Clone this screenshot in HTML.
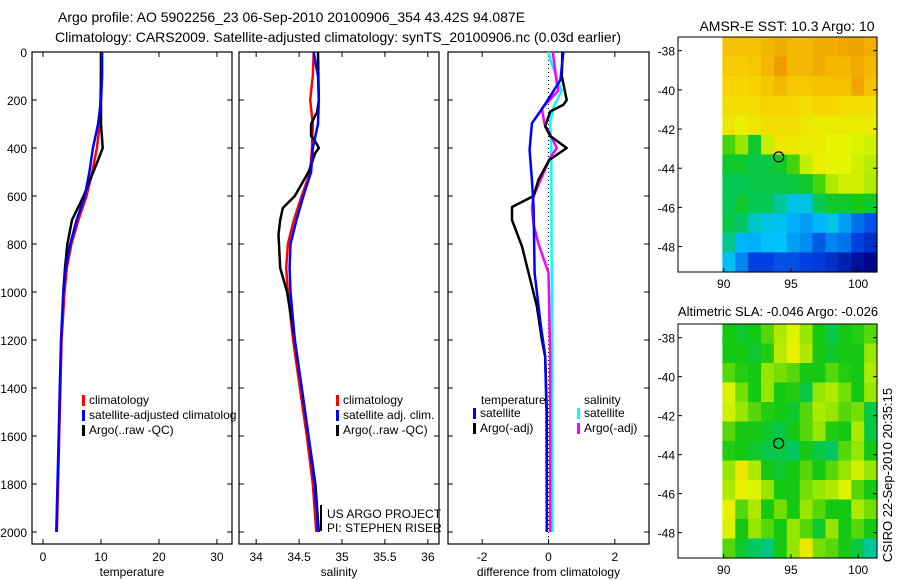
<!DOCTYPE html>
<html><head><meta charset="utf-8"><style>
html,body{margin:0;padding:0;background:#fff;}
svg{display:block;font-family:"Liberation Sans",sans-serif;font-size:12px;}
</style></head><body>
<svg id="c" width="900" height="580" viewBox="0 0 900 580">
<text x="58" y="22" font-size="14">Argo profile: AO 5902256_23 06-Sep-2010 20100906_354 43.42S 94.087E</text>
<text x="55" y="42" font-size="14" textLength="566">Climatology: CARS2009. Satellite-adjusted climatology: synTS_20100906.nc (0.03d earlier)</text>
<text x="787" y="31" font-size="14" text-anchor="middle">AMSR-E SST: 10.3 Argo: 10</text>
<text x="778" y="316" font-size="13" text-anchor="middle">Altimetric SLA: -0.046 Argo: -0.026</text>
<text transform="translate(892,475) rotate(-90)" font-size="13" text-anchor="middle">CSIRO 22-Sep-2010 20:35:15</text>
<g id="g"></g>
</svg>
<script>
// ---- profile data (depth in dbar) ----
const tDepth = [0,100,200,300,400,500,600,700,800,900,1000,1200,1400,1600,1800,2000];
const tClim  = [10,10,9.9,9.8,9.3,8.5,7.5,6.1,4.9,4.1,3.7,3.2,3.0,2.8,2.6,2.4];
const tSat   = [10.2,10.2,10,9.5,8.6,8.0,7.2,5.8,4.7,3.9,3.5,3.1,2.9,2.7,2.5,2.3];
const aDepth = [0,300,400,450,600,650,700,800,900,1000];
const tArgo  = [10,10,10.3,9.5,7,6,5,4.2,3.8,3.5];
const sDepth = [0,100,200,300,400,500,600,700,800,900,1000,1200,1400,1600,1800,2000];
const sClim  = [34.67,34.66,34.63,34.66,34.65,34.63,34.53,34.44,34.37,34.35,34.37,34.43,34.51,34.59,34.66,34.70];
const sSat   = [34.67,34.72,34.73,34.72,34.66,34.64,34.55,34.47,34.40,34.39,34.40,34.45,34.53,34.61,34.68,34.72];
const saDepth= [0,200,250,300,350,380,400,420,500,600,650,700,760,900,1000,1200,1400,1600,1800,2000];
const sArgo  = [34.72,34.73,34.71,34.64,34.64,34.70,34.73,34.69,34.61,34.45,34.31,34.28,34.26,34.28,34.36,34.45,34.53,34.61,34.69,34.73];
const dDepthA= [0,117,228,297,408,533,646,921,1129,1268,1500,2000];
const dTSat  = [0.45,0.36,-0.15,-0.5,-0.57,-0.5,-0.45,-0.42,-0.24,-0.1,-0.06,-0.05];
const dDepthB= [0,100,200,220,248,310,350,400,450,533,600,646,700,810,921,1060,1200,1270,1500,2000];
const dTArgo = [0.42,0.4,0.55,0.45,0.05,-0.1,0.05,0.55,0.02,-0.3,-0.45,-1.1,-1.1,-0.8,-0.6,-0.35,-0.2,-0.1,-0.05,-0.05];
const dDepthC= [0,130,160,235,300,330,400,440,600,650,720,800,920,1270,2000];
const dSArgo = [0.13,0.25,0.3,-0.2,-0.12,0.0,0.25,0.05,-0.45,-0.5,-0.45,-0.3,0.0,0.05,0.05];
const dDepthD= [0,30,130,160,230,290,400,1000,2000];
const dSSat  = [0.0,0.05,0.3,0.4,0.15,0.05,0.08,0.1,0.12];
const yTicks = [0,200,400,600,800,1000,1200,1400,1600,1800,2000];
const tTicks = [0,10,20,30];
const sTicks = [34,34.5,35,35.5,36];
const sTickLabels = ["34","34.5","35","35.5","36"];
const dTicks = [-2,0,2];
// ---- map data (rows north->south, cols west->east, colour index 0..1) ----
const sstGrid = [
[.78,.78,.78,.8,.82,.8,.8,.82,.82,.84,.84,.82],
[.76,.76,.77,.8,.86,.8,.8,.82,.8,.8,.83,.8],
[.74,.74,.75,.77,.8,.77,.77,.78,.78,.78,.84,.78],
[.72,.72,.72,.74,.74,.74,.72,.74,.74,.72,.72,.72],
[.7,.68,.7,.72,.72,.72,.7,.69,.69,.69,.69,.69],
[.55,.6,.5,.64,.7,.7,.69,.69,.67,.67,.66,.65],
[.5,.5,.48,.48,.5,.55,.64,.68,.67,.67,.65,.63],
[.47,.47,.48,.48,.48,.49,.5,.55,.62,.65,.65,.62],
[.47,.5,.47,.47,.42,.37,.37,.47,.5,.5,.52,.5],
[.48,.46,.39,.37,.36,.33,.31,.34,.37,.31,.26,.22],
[.43,.34,.33,.35,.35,.31,.29,.23,.28,.26,.2,.15],
[.36,.28,.2,.2,.22,.22,.2,.18,.15,.1,.05,.02]];
const slaGrid = [
[.52,.5,.52,.56,.62,.66,.6,.52,.48,.52,.53,.56],
[.52,.52,.5,.53,.63,.68,.62,.52,.5,.52,.52,.6],
[.56,.53,.52,.6,.58,.56,.52,.52,.56,.53,.52,.62],
[.66,.58,.52,.6,.52,.53,.48,.6,.62,.58,.52,.6],
[.65,.6,.56,.53,.52,.5,.56,.62,.6,.56,.58,.48],
[.56,.52,.52,.5,.48,.52,.56,.6,.53,.52,.62,.48],
[.53,.52,.5,.48,.48,.46,.52,.48,.46,.56,.6,.52],
[.6,.7,.62,.52,.5,.52,.56,.52,.56,.6,.65,.6],
[.62,.68,.66,.6,.52,.52,.58,.6,.62,.66,.56,.52],
[.68,.56,.62,.52,.58,.52,.6,.56,.52,.52,.62,.58],
[.66,.52,.6,.56,.52,.6,.56,.5,.6,.52,.56,.52],
[.56,.5,.46,.44,.52,.6,.7,.58,.56,.52,.48,.42]];
const latTicks = [-38,-40,-42,-44,-46,-48];
const lonTicks = [90,95,100];
const argoLon = 94.087, argoLat = -43.42;

const NS="http://www.w3.org/2000/svg";
const G=document.getElementById('g');
function mk(tag,attrs,parent){const e=document.createElementNS(NS,tag);for(const k in attrs)e.setAttribute(k,attrs[k]);(parent||G).appendChild(e);return e;}
const yD = d => 52 + d*0.24;
const BOT = 544;
function panel(x0,x1,vmin,vmax,ticks,labels,title,name){
  const sx = v => x0 + (v-vmin)/(vmax-vmin)*(x1-x0);
  const b=mk('rect',{x:x0,y:52,width:x1-x0,height:BOT-52,fill:'none',stroke:'#000','stroke-width':1.2});
  
  
  yTicks.forEach(d=>{
    mk('line',{x1:x0,x2:x0+5,y1:yD(d),y2:yD(d),stroke:'#000'});
    mk('line',{x1:x1,x2:x1-5,y1:yD(d),y2:yD(d),stroke:'#000'});
  });
  ticks.forEach((v,i)=>{
    mk('line',{x1:sx(v),x2:sx(v),y1:BOT,y2:BOT-5,stroke:'#000'});
    mk('line',{x1:sx(v),x2:sx(v),y1:52,y2:57,stroke:'#000'});
    const t=mk('text',{x:sx(v),y:BOT+17,'text-anchor':'middle'});t.textContent=labels[i];
    
    
  });
  const tt=mk('text',{x:(x0+x1)/2,y:576,'text-anchor':'middle'});tt.textContent=title;
  
  
  return sx;
}
function line(sx,depths,vals,col,w,name){
  const p=depths.map((d,i)=>sx(vals[i]).toFixed(1)+','+yD(d).toFixed(1)).join(' ');
  const e=mk('polyline',{points:p,fill:'none',stroke:col,'stroke-width':w,'stroke-linejoin':'round'});
  
  
}
function legend(x,y,col,txt,name){
  const r=mk('rect',{x:x,y:y-9,width:3,height:11,fill:col});
  
  
  const t=mk('text',{x:x+7,y:y});t.textContent=txt;
  
  
}
yTicks.forEach(d=>{const t=mk('text',{x:27,y:yD(d)+5,'text-anchor':'end'});t.textContent=d;
  
  });
const sx1=panel(32,232,-1.9,32.6,tTicks,tTicks.map(String),'temperature','temperature-panel');
line(sx1,tDepth,tClim,'#f00',2.5,'temp-climatology-line');
line(sx1,aDepth,tArgo,'#000',2.5,'temp-argo-line');
line(sx1,tDepth,tSat,'#00f',2.5,'temp-satellite-line');
legend(82,404,'#f00','climatology','legend-climatology');
legend(82,419,'#00f','satellite-adjusted climatolog','legend-satellite-adjusted');
legend(82,434,'#000','Argo(..raw -QC)','legend-argo-raw');
const sx2=panel(239,439,33.8,36.13,sTicks,sTickLabels,'salinity','salinity-panel');
line(sx2,sDepth,sClim,'#f00',2.5,'sal-climatology-line');
line(sx2,saDepth,sArgo,'#000',2.5,'sal-argo-line');
line(sx2,sDepth,sSat,'#00f',2.5,'sal-satellite-line');
legend(336,404,'#f00','climatology','legend-sal-climatology');
legend(336,419,'#00f','satellite adj. clim.','legend-sal-satellite');
legend(336,434,'#000','Argo(..raw -QC)','legend-sal-argo');
mk('rect',{x:320,y:505,width:2,height:26,fill:'#000'});
const u1=mk('text',{x:327,y:518});u1.textContent='US ARGO PROJECT';

const u2=mk('text',{x:327,y:532});u2.textContent='PI: STEPHEN RISER';

const sx3=panel(448,649,-3.03,3.03,dTicks,dTicks.map(String),'difference from climatology','difference-panel');
mk('line',{x1:sx3(0),x2:sx3(0),y1:52,y2:540,stroke:'#000','stroke-dasharray':'1,3'});
line(sx3,dDepthD,dSSat,'#0ff',2.5,'diff-sal-satellite-line');
line(sx3,dDepthC,dSArgo,'#f0f',2.5,'diff-sal-argo-line');
line(sx3,dDepthB,dTArgo,'#000',2.5,'diff-temp-argo-line');
line(sx3,dDepthA,dTSat,'#00f',2.5,'diff-temp-satellite-line');
const h1=mk('text',{x:481,y:404});h1.textContent='temperature';

const h2=mk('text',{x:584,y:404});h2.textContent='salinity';

legend(473,417,'#00f','satellite','legend-diff-temp-satellite');
legend(473,432,'#000','Argo(-adj)','legend-diff-temp-argo');
legend(577,417,'#0ff','satellite','legend-diff-sal-satellite');
legend(577,432,'#f0f','Argo(-adj)','legend-diff-sal-argo');
const stops=[[0,[0,0,128]],[.2,[0,64,224]],[.35,[0,192,255]],[.45,[0,200,110]],[.52,[20,200,20]],[.6,[150,230,0]],[.67,[230,245,0]],[.75,[248,208,0]],[.85,[240,160,0]],[1,[208,96,0]]];
function cmap(v){for(let i=1;i<stops.length;i++){if(v<=stops[i][0]){const a=stops[i-1],b=stops[i],t=(v-a[0])/(b[0]-a[0]);return 'rgb('+a[1].map((c,k)=>Math.round(c+(b[1][k]-c)*t)).join(',')+')';}}return 'rgb(208,96,0)';}
function map(top,bot,grid,name){
  const L=678,R=877, lonMin=86.6, lonMax=101.4, latTop=-37.3, latBot=-49.3;
  const mx=v=>L+(v-lonMin)/(lonMax-lonMin)*(R-L);
  const my=v=>top+(latTop-v)/(latTop-latBot)*(bot-top);
  const x0=mx(89.9), x1=R, nr=grid.length, nc=grid[0].length;
  const cw=(x1-x0)/nc, ch=(bot-top)/nr;
  grid.forEach((row,r)=>row.forEach((v,c)=>{
    const e=mk('rect',{x:(x0+c*cw).toFixed(2),y:(top+r*ch).toFixed(2),width:(cw+0.6).toFixed(2),height:(ch+0.6).toFixed(2),fill:cmap(v)});
    
    
  }));
  const f=mk('rect',{x:L,y:top,width:R-L,height:bot-top,fill:'none',stroke:'#000'});
  
  
  latTicks.forEach(v=>{mk('line',{x1:L,x2:L+4,y1:my(v),y2:my(v),stroke:'#000'});mk('line',{x1:R,x2:R-4,y1:my(v),y2:my(v),stroke:'#000'});
    const t=mk('text',{x:L-3,y:my(v)+5,'text-anchor':'end'});t.textContent=v;
    });
  lonTicks.forEach(v=>{mk('line',{x1:mx(v),x2:mx(v),y1:bot,y2:bot-4,stroke:'#000'});
    const t=mk('text',{x:mx(v),y:bot+16,'text-anchor':'middle'});t.textContent=v;
    });
  const c=mk('circle',{cx:mx(argoLon),cy:my(argoLat),r:5,fill:'none',stroke:'#000','stroke-width':1.2});
  
  
}
map(37,272,sstGrid,'sst-map');
map(324,558,slaGrid,'sla-map');
</script>
</body></html>
